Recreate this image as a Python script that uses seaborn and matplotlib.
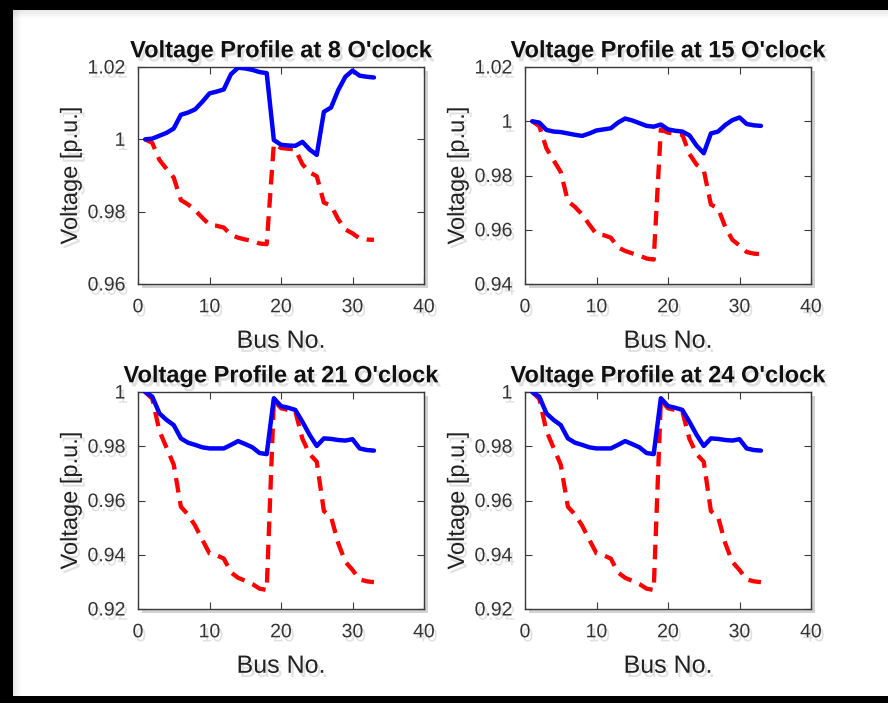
import numpy as np
import pandas as pd
import matplotlib
matplotlib.use("Agg")
import matplotlib.pyplot as plt
import matplotlib.patheffects as pe
from matplotlib.patches import Rectangle
import seaborn as sns

# ---------------- data ----------------
bus = list(range(1, 34))

hours = ["8", "15", "21", "24"]

red_8 = [1.0000, 0.9990, 0.9943, 0.9918, 0.9894, 0.9832, 0.9820, 0.9804, 0.9783, 0.9764,
         0.9761, 0.9756, 0.9736, 0.9728, 0.9723, 0.9719, 0.9712, 0.9710, 0.9988, 0.9976,
         0.9974, 0.9972, 0.9931, 0.9909, 0.9898, 0.9825, 0.9817, 0.9779, 0.9751, 0.9740,
         0.9726, 0.9723, 0.9722]
blue_8 = [1.0000, 1.0002, 1.0010, 1.0018, 1.0030, 1.0068, 1.0074, 1.0083, 1.0104, 1.0127,
          1.0132, 1.0138, 1.0180, 1.0198, 1.0196, 1.0192, 1.0186, 1.0183, 0.9998, 0.9985,
          0.9983, 0.9982, 0.9993, 0.9972, 0.9957, 1.0076, 1.0088, 1.0136, 1.0173, 1.0190,
          1.0176, 1.0173, 1.0171]

red_15 = [1.0000, 0.9982, 0.9900, 0.9856, 0.9813, 0.9705, 0.9684, 0.9656, 0.9619, 0.9584,
          0.9580, 0.9571, 0.9535, 0.9522, 0.9513, 0.9505, 0.9494, 0.9490, 0.9970, 0.9958,
          0.9954, 0.9951, 0.9879, 0.9840, 0.9820, 0.9693, 0.9679, 0.9611, 0.9563, 0.9542,
          0.9518, 0.9512, 0.9510]
blue_15 = [1.0000, 0.9995, 0.9968, 0.9962, 0.9960, 0.9955, 0.9950, 0.9946, 0.9955, 0.9966,
           0.9970, 0.9974, 0.9995, 1.0010, 1.0003, 0.9993, 0.9983, 0.9980, 0.9988, 0.9970,
           0.9965, 0.9962, 0.9948, 0.9910, 0.9882, 0.9955, 0.9962, 0.9986, 1.0004, 1.0014,
           0.9990, 0.9985, 0.9983]

red_21 = [1.0000, 0.9975, 0.9856, 0.9794, 0.9732, 0.9577, 0.9548, 0.9507, 0.9455, 0.9405,
          0.9398, 0.9386, 0.9335, 0.9315, 0.9304, 0.9292, 0.9275, 0.9270, 0.9971, 0.9940,
          0.9934, 0.9929, 0.9827, 0.9771, 0.9743, 0.9561, 0.9540, 0.9443, 0.9374, 0.9344,
          0.9309, 0.9302, 0.9299]
blue_21 = [1.0000, 0.9983, 0.9921, 0.9897, 0.9878, 0.9829, 0.9813, 0.9805, 0.9796, 0.9792,
           0.9792, 0.9792, 0.9805, 0.9819, 0.9808, 0.9796, 0.9775, 0.9771, 0.9977, 0.9948,
           0.9942, 0.9934, 0.9890, 0.9842, 0.9801, 0.9829, 0.9827, 0.9823, 0.9821, 0.9826,
           0.9792, 0.9786, 0.9784]

red_24 = [1.0000, 0.9975, 0.9856, 0.9794, 0.9732, 0.9577, 0.9548, 0.9507, 0.9455, 0.9405,
          0.9398, 0.9386, 0.9335, 0.9315, 0.9304, 0.9292, 0.9275, 0.9270, 0.9971, 0.9940,
          0.9934, 0.9929, 0.9827, 0.9771, 0.9743, 0.9561, 0.9540, 0.9443, 0.9374, 0.9344,
          0.9309, 0.9302, 0.9299]
blue_24 = [1.0000, 0.9983, 0.9921, 0.9897, 0.9878, 0.9829, 0.9813, 0.9805, 0.9796, 0.9792,
           0.9792, 0.9792, 0.9805, 0.9819, 0.9808, 0.9796, 0.9775, 0.9771, 0.9977, 0.9948,
           0.9942, 0.9934, 0.9890, 0.9842, 0.9801, 0.9829, 0.9827, 0.9823, 0.9821, 0.9826,
           0.9792, 0.9786, 0.9784]

y_ticks_8 = [0.96, 0.98, 1.00, 1.02]
y_ticks_15 = [0.94, 0.96, 0.98, 1.00, 1.02]
y_ticks_21 = [0.92, 0.94, 0.96, 0.98, 1.00]
y_ticks_24 = [0.92, 0.94, 0.96, 0.98, 1.00]
x_ticks = [0, 10, 20, 30, 40]

# ---------------- style ----------------
sns.set_theme(style="white")
plt.rcParams['font.family'] = ['Liberation Sans', 'DejaVu Sans']

W, H = 888, 703
fig = plt.figure(figsize=(W / 100, H / 100), dpi=100)
fig.patch.set_facecolor("white")

txt_shadow = [pe.withSimplePatchShadow(offset=(2, -3), shadow_rgbFace="0.6", alpha=0.3)]
box_shadow = [pe.withSimplePatchShadow(offset=(3, -3), shadow_rgbFace="0.5", alpha=0.35)]

def fmt(v):
    s = f"{v:.2f}"
    if s.endswith("0"):
        s = s.rstrip("0").rstrip(".")
    return s

panels = [
    (hours[0], red_8, blue_8, y_ticks_8, (138, 67, 424, 284)),
    (hours[1], red_15, blue_15, y_ticks_15, (525, 67, 811, 284)),
    (hours[2], red_21, blue_21, y_ticks_21, (138, 392, 424, 609)),
    (hours[3], red_24, blue_24, y_ticks_24, (525, 392, 811, 609)),
]

edge = "#3a3a3a"
for hr, red, blue, yt, (x0, y0, x1, y1) in panels:
    ax = fig.add_axes([x0 / W, 1 - y1 / H, (x1 - x0) / W, (y1 - y0) / H])
    df = pd.DataFrame({"Bus": bus, "red": red, "blue": blue})
    sns.lineplot(data=df, x="Bus", y="red", ax=ax, color="#ff0000", lw=3.1,
                 linestyle=(0, (3.4, 2.0)), zorder=3)
    sns.lineplot(data=df, x="Bus", y="blue", ax=ax, color="#0000ff", lw=3.2, zorder=4)
    ax.set_xlim(0, 40)
    ax.set_ylim(yt[0], yt[-1])
    ax.set_xticks(x_ticks)
    ax.set_xticklabels([str(t) for t in x_ticks])
    ax.set_yticks(yt)
    ax.set_yticklabels([fmt(v) for v in yt])
    ax.tick_params(direction="in", length=5, width=0.8, color=edge,
                   top=True, right=True, bottom=True, left=True,
                   labelsize=14, labelcolor="#333333")
    ax.tick_params(axis="x", pad=11)
    ax.tick_params(axis="y", pad=9)
    for sp in ax.spines.values():
        sp.set_visible(True)
        sp.set_color(edge)
        sp.set_linewidth(1.0)
    ax.patch.set_path_effects(box_shadow)
    ax.set_title(f"Voltage Profile at {hr} O'clock", fontsize=17, fontweight="bold",
                 color="#111111", pad=7, path_effects=txt_shadow)
    ax.set_xlabel("Bus No.", fontsize=18, color="#222222", labelpad=9, path_effects=txt_shadow)
    ax.set_ylabel("Voltage [p.u.]", fontsize=17, color="#222222", labelpad=4, path_effects=txt_shadow)
    for lab in ax.get_xticklabels() + ax.get_yticklabels():
        lab.set_path_effects(txt_shadow)

# ---------------- picture frame ----------------
frame = "#000000"
fig.patches.append(Rectangle((0, 1 - 10 / H), 1, 10 / H, transform=fig.transFigure,
                             facecolor=frame, edgecolor="none", zorder=10))
fig.patches.append(Rectangle((0, 0), 13 / W, 1, transform=fig.transFigure,
                             facecolor=frame, edgecolor="none", zorder=10))
fig.patches.append(Rectangle((0, 0), 1, 7 / H, transform=fig.transFigure,
                             facecolor=frame, edgecolor="none", zorder=10))
# soft inner shadow along the frame
for i in range(8):
    a = 0.18 * (1 - i / 8)
    fig.patches.append(Rectangle((13 / W, 1 - (10 + i + 1) / H), 1, 1 / H,
                                 transform=fig.transFigure, facecolor="0.5",
                                 alpha=a, edgecolor="none", zorder=9))
    fig.patches.append(Rectangle(((13 + i) / W, 7 / H), 1 / W, 1 - 17 / H,
                                 transform=fig.transFigure, facecolor="0.5",
                                 alpha=a, edgecolor="none", zorder=9))

fig.savefig("out.png", dpi=100, facecolor="white")
